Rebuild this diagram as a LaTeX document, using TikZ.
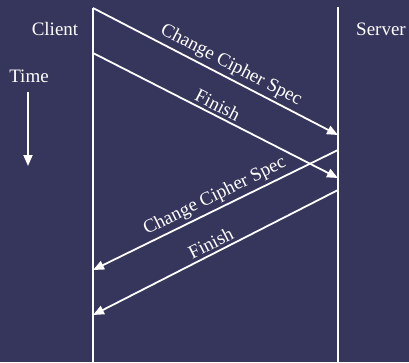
\documentclass[tikz,border=0pt]{standalone}
\usepackage{fontspec}
\setmainfont{Liberation Serif}
\usetikzlibrary{arrows.meta,positioning}
\definecolor{slidebg}{RGB}{54,53,91}

\begin{document}
\begin{tikzpicture}[
            x=1pt, y=-1pt,
            font=\fontsize{19}{22}\selectfont,
            every node/.style={text=white},
            party/.style={anchor=base, inner sep=0pt},
            lifeline/.style={draw=white, line width=1.8pt},
            msg/.style={draw=white, line width=1.8pt, -{Triangle[length=11pt,width=9pt]}},
            tag/.style={above=2pt, sloped, inner sep=1pt}
        ]
            \fill[slidebg] (0,0) rectangle (409,362);
            \useasboundingbox (0,0) rectangle (409,362);

            \node[party] (client) at (55,35) {Client};
            \node[party] (server) at (381,35) {Server};
            \node[party] (time) at (29,82) {Time};

            % lifelines
            \coordinate (ctop) at (93,8);
            \coordinate (cbot) at (93,362);
            \coordinate (stop) at (338,7);
            \coordinate (sbot) at (338,362);
            \draw[lifeline] (ctop) -- (cbot);
            \draw[lifeline] (stop) -- (sbot);

            % message ends on the lifelines
            \coordinate (c2) at (93,53);
            \coordinate (c3) at (93,270);
            \coordinate (c4) at (93,315);
            \coordinate (s1) at (338,135);
            \coordinate (s2) at (338,178);
            \coordinate (s3) at (338,150);
            \coordinate (s4) at (338,190);

            \coordinate (tstart) at (28,92);
            \coordinate (tend) at (28,166);
            \draw[msg] (tstart) -- (tend);

            \draw[msg] (ctop) -- node[tag, pos=0.54] {Change Cipher Spec} (s1);
            \draw[msg] (c2) -- node[tag, pos=0.49] {Finish} (s2);
            \draw[msg] (s3) -- node[tag, pos=0.48] {Change Cipher Spec} (c3);
            \draw[msg] (s4) -- node[tag, pos=0.5] {Finish} (c4);
        \end{tikzpicture}
\end{document}
